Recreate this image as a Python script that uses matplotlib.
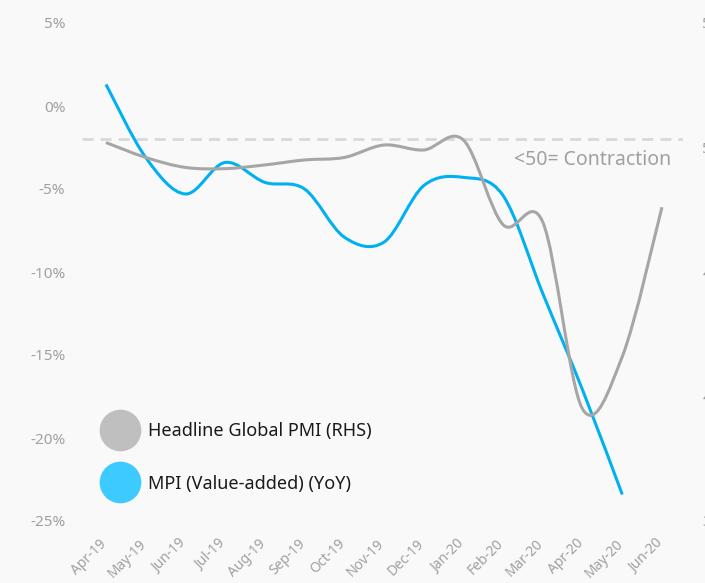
import numpy as np
import matplotlib.pyplot as plt
import matplotlib.transforms as mtransforms
from matplotlib.path import Path
from matplotlib.patches import PathPatch
from matplotlib.lines import Line2D

months = ['Apr-19', 'May-19', 'Jun-19', 'Jul-19', 'Aug-19', 'Sep-19', 'Oct-19',
          'Nov-19', 'Dec-19', 'Jan-20', 'Feb-20', 'Mar-20', 'Apr-20', 'May-20', 'Jun-20']
# MPI value-added yoy (%), no value for Jun-20
mpi = [1.3, -3.1, -5.3, -3.4, -4.6, -5.0, -7.9, -8.2, -4.8, -4.3, -5.4, -11.3, -17.1, -23.4]
# headline global PMI (rhs)
pmi = [50.2, 49.6, 49.2, 49.15, 49.3, 49.5, 49.6, 50.1, 49.9, 50.3, 46.9, 47.0, 39.5, 41.6, 47.6]
left_ticks = [5, 0, -5, -10, -15, -20, -25]
right_ticks = [55, 50, 45, 40, 35]

BG = '#f9f9f9'
BLUE = '#00b0f0'
GREY = '#a6a6a6'
TXT = '#a0a0a0'

plt.rcParams['font.family'] = ['Noto Sans', 'DejaVu Sans']


def smooth_path(x, y):
    # excel style smoothed line, bezier through the points
    pts = np.column_stack([x, y]).astype(float)
    n = len(pts)
    verts = [pts[0]]
    codes = [Path.MOVETO]
    for i in range(n - 1):
        p0 = pts[i - 1] if i > 0 else pts[i]
        p1 = pts[i]
        p2 = pts[i + 1]
        p3 = pts[i + 2] if i + 2 < n else pts[i + 1]
        verts += [p1 + (p2 - p0) / 6, p2 - (p3 - p1) / 6, p2]
        codes += [Path.CURVE4] * 3
    return Path(verts, codes)


fig = plt.figure(figsize=(7.05, 5.83), dpi=100, facecolor=BG)
ax = fig.add_axes([82 / 705, 62 / 583, 601 / 705, 498 / 583])
ax.set_facecolor(BG)
ax2 = ax.twinx()

x = np.arange(len(months))
ax.set_xlim(-0.604, 14.53)
ax.set_ylim(-25, 5)
ax2.set_ylim(35, 55)

ax.axhline(-2, color='#d9d9d9', lw=2, ls=(0, (4, 2.5)), zorder=1)

ax.add_patch(PathPatch(smooth_path(x[:len(mpi)], mpi), fc='none', ec=BLUE, lw=2.2, zorder=3,
                       capstyle='butt'))
ax2.add_patch(PathPatch(smooth_path(x, pmi), fc='none', ec=GREY, lw=2.2, zorder=3,
                        capstyle='butt'))

ax.text(14.23, -3.25, '<50= Contraction', color=TXT, fontsize=14, ha='right', va='center')

ax.set_yticks(left_ticks)
ax.set_yticklabels([f'{v}%' for v in left_ticks])
ax.tick_params(axis='y', length=0, pad=12, labelsize=11, labelcolor=TXT)
ax2.set_yticks(right_ticks)
ax2.tick_params(axis='y', length=0, pad=14, labelsize=11, labelcolor=TXT)

ax.set_xticks(x)
ax.set_xticklabels(months, rotation=45, ha='right', rotation_mode='anchor')
ax.tick_params(axis='x', length=0, pad=11, labelsize=10, labelcolor=TXT)
shift = mtransforms.ScaledTranslation(-7 / 100, 0, fig.dpi_scale_trans)
for lab in ax.get_xticklabels():
    lab.set_transform(lab.get_transform() + shift)

for a in (ax, ax2):
    for s in a.spines.values():
        s.set_visible(False)

handles = [Line2D([], [], ls='none', marker='o', ms=30, mfc='#bfbfbf', mec='none'),
           Line2D([], [], ls='none', marker='o', ms=30, mfc='#3dcbff', mec='none')]
leg = ax2.legend(handles, ['Headline Global PMI (RHS)', 'MPI (Value-added) (YoY)'],
                 loc='upper left', bbox_to_anchor=(0.025, 0.216), frameon=False,
                 fontsize=13, labelspacing=1.9, handletextpad=0.75, borderpad=0,
                 handlelength=1.6)
for t in leg.get_texts():
    t.set_color('#1a1a1a')

fig.savefig('out.png', dpi=100, facecolor=BG)
